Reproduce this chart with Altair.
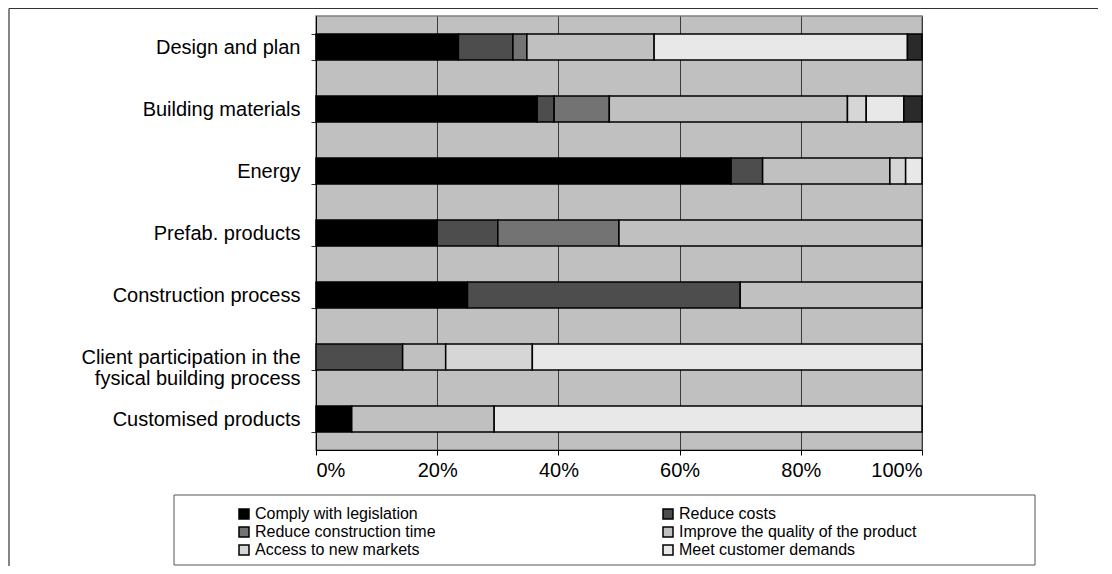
import altair as alt
import pandas as pd

categories = [
    "Design and plan",
    "Building materials",
    "Energy",
    "Prefab. products",
    "Construction process",
    "Client participation in the fysical building process",
    "Customised products",
]
series = [
    "Comply with legislation",
    "Reduce costs",
    "Reduce construction time",
    "Improve the quality of the product",
    "Access to new markets",
    "Meet customer demands",
    "Other",
]
colors = ["#000000", "#4d4d4d", "#737373", "#c0c0c0", "#d6d6d6", "#e8e8e8", "#2a2a2a"]

# percentage shares per category, in series order
comply = [23.5, 36.5, 68.5, 20.0, 25.0, 0.0, 5.9]
costs = [9.0, 2.8, 5.2, 10.0, 45.0, 14.3, 0.0]
time_ = [2.3, 9.1, 0.0, 20.0, 0.0, 0.0, 0.0]
quality = [21.0, 39.3, 21.0, 50.0, 30.0, 7.1, 23.5]
markets = [0.0, 3.1, 2.6, 0.0, 0.0, 14.3, 0.0]
demands = [41.8, 6.2, 2.7, 0.0, 0.0, 64.3, 70.6]
other = [2.4, 3.0, 0.0, 0.0, 0.0, 0.0, 0.0]

cols = [comply, costs, time_, quality, markets, demands, other]
rows = []
for ci, cat in enumerate(categories):
    for si, s in enumerate(series):
        v = cols[si][ci]
        if v > 0:
            rows.append({"category": cat, "series": s, "order": si, "value": v})
df = pd.DataFrame(rows)

FONT = "Liberation Sans"
W, H = 606, 434
PAD_L, PAD_T, PAD_R, PAD_B = 308, 8, 176, 116
CW = PAD_L + W + PAD_R
CH = PAD_T + H + PAD_B

client = categories[5]
label_expr = (
    f"datum.label == '{client}' ? ['Client participation in the', 'fysical building process'] : datum.label"
)

bars = alt.Chart(df).mark_bar(stroke="#000000", strokeWidth=1.5).encode(
    y=alt.Y(
        "category:N",
        sort=categories,
        scale=alt.Scale(paddingInner=0.58, paddingOuter=0.29),
        axis=alt.Axis(
            title=None,
            labelFont=FONT,
            labelFontSize=20,
            labelColor="#000000",
            labelPadding=11,
            labelExpr=label_expr,
            labelLineHeight=21,
            labelLimit=400,
            tickBand="extent",
            tickSize=5,
            tickColor="#333333",
            domainColor="#000000",
            domainWidth=1,
            grid=False,
        ),
    ),
    x=alt.X(
        "value:Q",
        stack="normalize",
        scale=alt.Scale(domain=[0, 1], nice=False),
        axis=alt.Axis(
            title=None,
            format=".0%",
            values=[0, 0.2, 0.4, 0.6, 0.8, 1.0],
            labelFont=FONT,
            labelFontSize=20,
            labelColor="#000000",
            labelPadding=5,
            tickSize=5,
            tickColor="#000000",
            domainColor="#000000",
            grid=True,
            gridColor="#3a3a3a",
            gridWidth=1,
            gridOpacity=1,
        ),
    ),
    color=alt.Color(
        "series:N",
        scale=alt.Scale(domain=series, range=colors),
        legend=alt.Legend(
            title=None,
            values=series[:6],
            orient="none",
            direction="horizontal",
            legendX=-80,
            legendY=490,
            columns=2,
            columnPadding=224,
            rowPadding=2,
            labelFont=FONT,
            labelFontSize=16,
            labelColor="#000000",
            labelOffset=3,
            labelLimit=400,
            symbolType="square",
            symbolSize=100,
            symbolStrokeColor="#000000",
            symbolStrokeWidth=1.5,
            symbolOpacity=1,
            padding=0,
        ),
    ),
    order=alt.Order("order:Q"),
)

one = pd.DataFrame({"a": [0]})
legend_box = alt.Chart(one).mark_rect(fill=None, stroke="#555555", strokeWidth=1).encode(
    x=alt.value(-142), x2=alt.value(719), y=alt.value(479), y2=alt.value(549)
)
frame_top = alt.Chart(one).mark_rule(color="#333333", strokeWidth=1.2).encode(
    x=alt.value(-307), x2=alt.value(CW - PAD_L), y=alt.value(-7.5), y2=alt.value(-7.5)
)
frame_left = alt.Chart(one).mark_rule(color="#333333", strokeWidth=1.2).encode(
    x=alt.value(-307), x2=alt.value(-307), y=alt.value(-7.5), y2=alt.value(CH - PAD_T)
)

chart = (
    alt.layer(bars, legend_box, frame_top, frame_left)
    .properties(
        width=W,
        height=H,
        autosize=alt.AutoSizeParams(type="none"),
        padding={"left": PAD_L, "top": PAD_T, "right": PAD_R, "bottom": PAD_B},
        background="#ffffff",
    )
    .configure_view(fill="#c0c0c0", stroke="#808080", strokeWidth=1.5)
)

chart.save("out.html", embed_options={"renderer": "svg", "actions": False})
